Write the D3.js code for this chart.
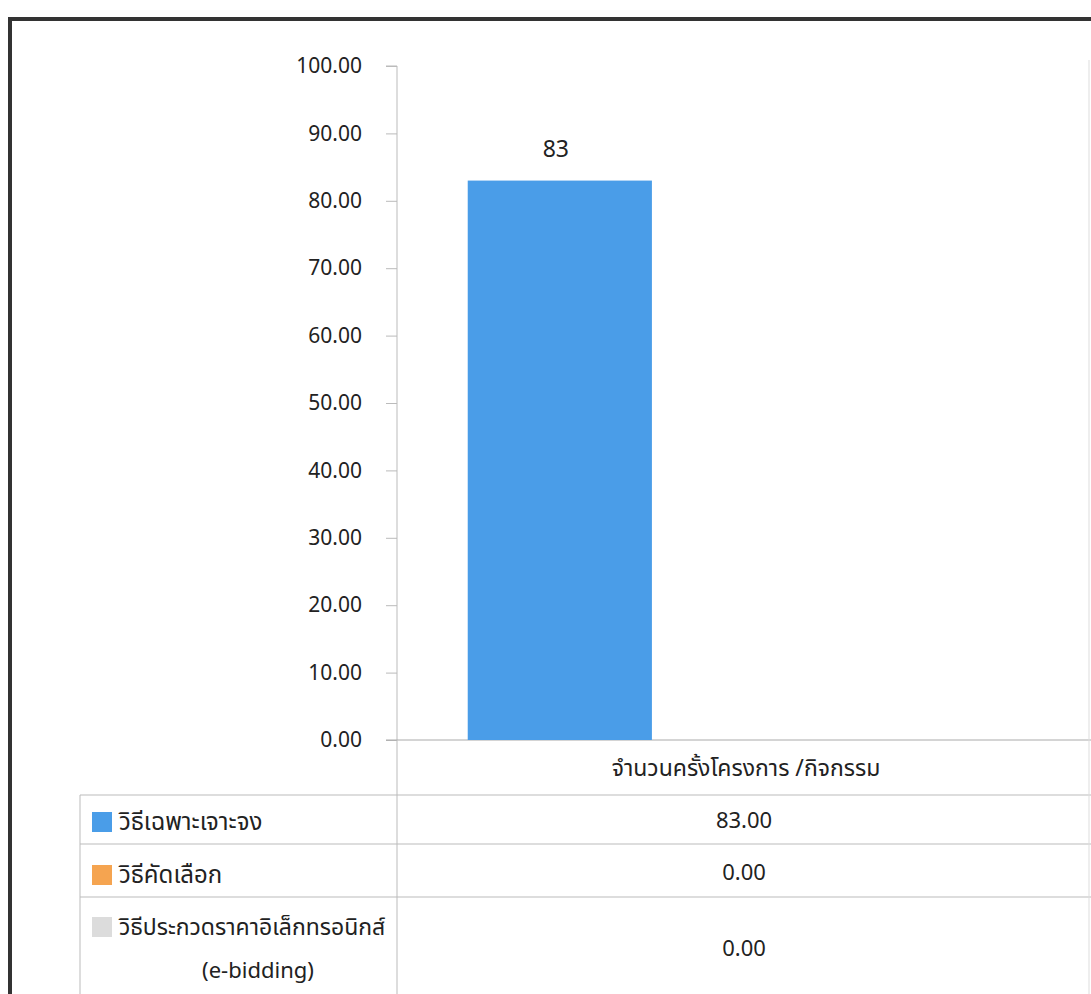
<!DOCTYPE html>
<html>
<head>
<meta charset="utf-8">
<script src="https://cdn.jsdelivr.net/npm/d3@7"></script>
<style>
  body { margin: 0; background: #fff; }
  text { font-family: "Noto Sans Thai", "Noto Sans", "DejaVu Sans", sans-serif; fill: #222; }
</style>
</head>
<body>
<div id="chart-area"></div>
<script>
const categories = ["จำนวนครั้งโครงการ /กิจกรรม"];
const seriesNames = ["วิธีเฉพาะเจาะจง", "วิธีคัดเลือก", "วิธีประกวดราคาอิเล็กทรอนิกส์"];
const seriesNote = ["", "", "(e-bidding)"];
const seriesValues = [83, 0, 0];
const seriesColors = ["#4a9de8", "#f5a450", "#dcdcdc"];
const yTicks = [0, 10, 20, 30, 40, 50, 60, 70, 80, 90, 100];

const width = 1091;
const height = 994;
const plot = { left: 397, right: 1091, top: 66, bottom: 740 };

const svg = d3.select("#chart-area")
              .append("svg")
              .attr("width", width)
              .attr("height", height);

// frame
svg.append("path")
   .attr("d", `M10,${height} L10,19 L${width},19`)
   .attr("fill", "none")
   .attr("stroke", "#333")
   .attr("stroke-width", 4);

const yScale = d3.scaleLinear()
                 .domain([0, 100])
                 .range([plot.bottom, plot.top]);

const xScale = d3.scaleBand()
                 .domain(categories)
                 .range([plot.left, plot.right])
                 .paddingOuter(0.128)
                 .paddingInner(0);

const seriesScale = d3.scaleBand()
                      .domain(seriesNames)
                      .range([0, xScale.bandwidth()]);

const axisY = d3.axisLeft(yScale)
                .tickValues(yTicks)
                .tickSize(11)
                .tickPadding(24)
                .tickFormat(d3.format(".2f"));

const gy = svg.append("g")
   .attr("transform", `translate(${plot.left},0)`)
   .call(axisY);
gy.select(".domain").attr("stroke", "#bbb").attr("d", `M-11,${plot.top}H0V${plot.bottom}`);
gy.selectAll(".tick line").attr("stroke", "#bbb");
gy.selectAll(".tick text").style("font-size", "21px").attr("fill", "#222");

// baseline
svg.append("line")
   .attr("x1", plot.left - 11).attr("x2", plot.right)
   .attr("y1", yScale(0)).attr("y2", yScale(0))
   .attr("stroke", "#aaa");

// bars
const group = svg.append("g")
   .attr("transform", `translate(${xScale(categories[0])},0)`);

group.selectAll("rect")
   .data(seriesValues)
   .enter()
   .append("rect")
   .attr("x", (d, i) => seriesScale(seriesNames[i]))
   .attr("width", seriesScale.bandwidth())
   .attr("y", d => yScale(d))
   .attr("height", d => yScale(0) - yScale(d))
   .attr("fill", (d, i) => seriesColors[i]);

group.selectAll(".bar-label")
   .data(seriesValues.filter(d => d > 0))
   .enter()
   .append("text")
   .attr("class", "bar-label")
   .attr("text-anchor", "middle")
   .attr("x", (d, i) => seriesScale(seriesNames[i]) + seriesScale.bandwidth() / 2 - 4)
   .attr("y", d => yScale(d) - 24)
   .style("font-size", "23px")
   .text(d => d);

// category label
svg.append("text")
   .attr("text-anchor", "middle")
   .attr("x", xScale(categories[0]) + xScale.bandwidth() / 2 + 2)
   .attr("y", 776)
   .style("font-size", "23px")
   .text(categories[0]);

// data table
const tableLeft = 80;
const rowLines = [795, 844, 897];
const labelBase = [830, 883, 935];
const valueBase = [828, 880, 956];
const lineColor = "#bbb";

svg.selectAll(".row-line")
   .data(rowLines)
   .enter()
   .append("line")
   .attr("x1", tableLeft).attr("x2", plot.right)
   .attr("y1", d => d).attr("y2", d => d)
   .attr("stroke", lineColor);

svg.append("line")
   .attr("x1", tableLeft).attr("x2", tableLeft)
   .attr("y1", rowLines[0]).attr("y2", height)
   .attr("stroke", lineColor);

svg.append("line")
   .attr("x1", plot.left).attr("x2", plot.left)
   .attr("y1", plot.bottom).attr("y2", height)
   .attr("stroke", lineColor);

svg.append("line")
   .attr("x1", plot.right - 2).attr("x2", plot.right - 2)
   .attr("y1", 60).attr("y2", height)
   .attr("stroke", "#ddd");

const rows = svg.selectAll(".row")
   .data(seriesNames)
   .enter()
   .append("g")
   .attr("class", "row");

rows.append("rect")
   .attr("x", 92)
   .attr("y", (d, i) => labelBase[i] - 18)
   .attr("width", 20)
   .attr("height", 20)
   .attr("fill", (d, i) => seriesColors[i]);

rows.append("text")
   .attr("x", 119)
   .attr("y", (d, i) => labelBase[i])
   .style("font-size", (d, i) => i === 2 ? "23px" : "24px")
   .text(d => d);

rows.filter((d, i) => seriesNote[i] !== "")
   .append("text")
   .attr("text-anchor", "middle")
   .attr("x", 258)
   .attr("y", 978)
   .style("font-size", "22px")
   .text(d => seriesNote[seriesNames.indexOf(d)]);

rows.append("text")
   .attr("text-anchor", "middle")
   .attr("x", xScale(categories[0]) + xScale.bandwidth() / 2)
   .attr("y", (d, i) => valueBase[i])
   .style("font-size", "22px")
   .text((d, i) => d3.format(".2f")(seriesValues[i]));
</script>
</body>
</html>
